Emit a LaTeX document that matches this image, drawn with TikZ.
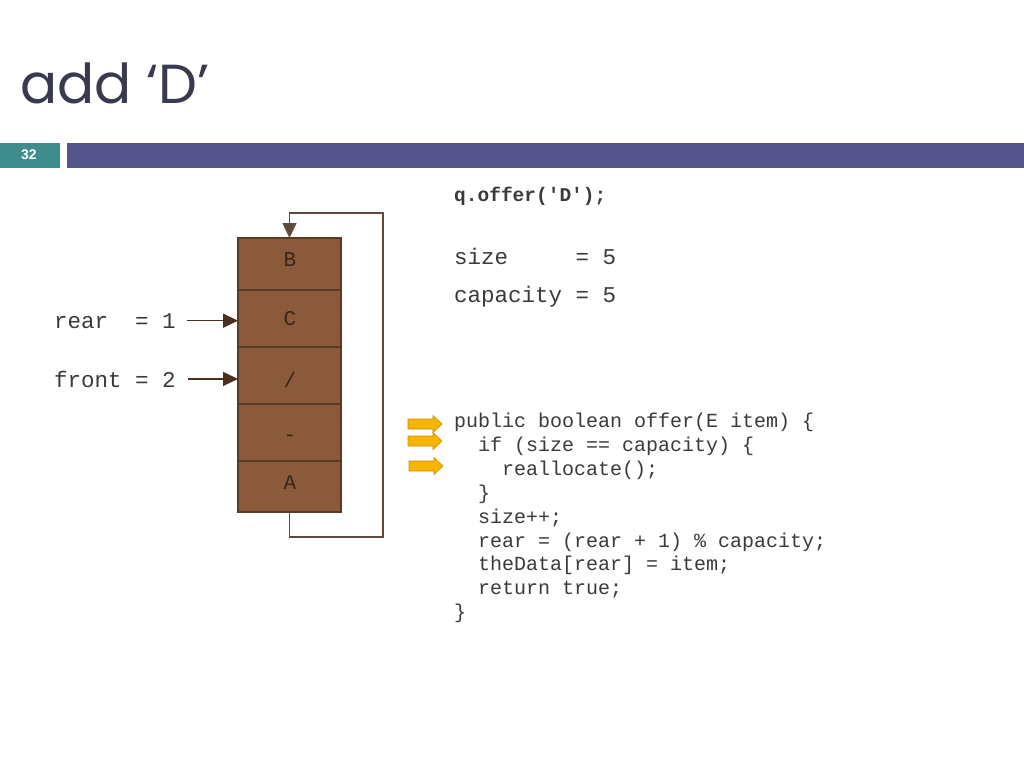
\documentclass[tikz,border=0pt]{standalone}
\usepackage{fontspec}
\setmainfont{Liberation Sans}
\setmonofont{Liberation Mono}
\newfontfamily\titlefont{Poppins}
\usetikzlibrary{arrows.meta}
\definecolor{titlecol}{HTML}{3A3A4E}
\definecolor{tealcol}{HTML}{3F8C8C}
\definecolor{barcol}{HTML}{54548A}
\definecolor{cellfill}{HTML}{8B5A3A}
\definecolor{celldraw}{HTML}{5A3A22}
\definecolor{celltext}{HTML}{3A2616}
\definecolor{loopcol}{HTML}{5E4A3E}
\definecolor{ptrcol}{HTML}{4A2E1E}
\definecolor{codecol}{HTML}{3A3A3A}
\definecolor{orangefill}{HTML}{F5B500}
\definecolor{orangedraw}{HTML}{D09000}
\begin{document}
\begin{tikzpicture}[x=1pt,y=-1pt,
  cell/.style={draw=celldraw,fill=cellfill,line width=1.5pt,minimum width=103pt,inner sep=0pt,outer sep=0pt},
  celltxt/.style={text=celltext,font=\ttfamily\fontsize{21}{24}\selectfont,inner sep=0pt},
  codeline/.style={anchor=base west,inner sep=0pt,text=codecol,font=\ttfamily\fontsize{20}{24}\selectfont},
  biglabel/.style={anchor=base west,inner sep=0pt,text=codecol,font=\ttfamily\fontsize{22.5}{27}\selectfont},
  loopline/.style={draw=loopcol,line width=1.3pt},
  ptr/.style={draw=ptrcol,line width=1.3pt,-{Triangle[length=15pt,width=14pt]}},
  orangearrow/.style={fill=orangefill,draw=orangedraw,line width=0.6pt}
]
\useasboundingbox (0,0) rectangle (1024,768);
\fill[white] (0,0) rectangle (1024,768);

% title and header bar
\node[anchor=base west,inner sep=0pt,text=titlecol,font=\titlefont\fontsize{55}{62}\selectfont] (title) at (20,103) {add ‘D’};
\fill[tealcol] (0,143) rectangle (60,168);
\fill[barcol] (67,143) rectangle (1024,168);
\node[text=white,font=\bfseries\fontsize{14}{16}\selectfont,inner sep=0pt] (pnum) at (29,155) {32};

% stack cells
\node[cell,minimum height=52pt] (c0) at (289.5,264) {};
\node[cell,minimum height=57pt] (c1) at (289.5,318.5) {};
\node[cell,minimum height=57pt] (c2) at (289.5,375.5) {};
\node[cell,minimum height=57pt] (c3) at (289.5,432.5) {};
\node[cell,minimum height=51pt] (c4) at (289.5,486.5) {};
\node[celltxt] (tB) at (290,260) {B};
\node[celltxt] (tC) at (290,319) {C};
\node[celltxt] (tS) at (290,380) {/};
\node[celltxt] (tD) at (290,438) {-};
\node[celltxt] (tA) at (290,483) {A};

% loop connector
\coordinate (lr) at (383,537);
\coordinate (tr) at (383,213);
\draw[loopline,-{Triangle[length=15pt,width=14pt]}] (c4.south) |- (lr) -- (tr) -| (c0.north);

% rear / front labels
\node[biglabel] (rearlbl) at (54,328) {rear\ \ = 1};
\node[biglabel] (frontlbl) at (54,387) {front = 2};
\draw[ptr] ([xshift=11pt]rearlbl.east) -- (rearlbl.east -| c1.west);
\draw[ptr] ([xshift=12pt]frontlbl.east) -- (frontlbl.east -| c2.west);

% right-hand text
\node[codeline,font=\ttfamily\bfseries\fontsize{19.5}{24}\selectfont] (call) at (454,201) {q.offer('D');};
\node[biglabel] (sizel) at (454,264) {size\ \ \ \ \ = 5};
\node[biglabel] (capl) at (454,302) {capacity = 5};

\node[codeline] (l1) at (454,427) {public boolean offer(E item) \{};
\node[codeline] (l2) at (478,451) {if (size == capacity) \{};
\node[codeline] (l3) at (502,475) {reallocate();};
\node[codeline] (l4) at (478,499) {\}};
\node[codeline] (l5) at (478,523) {size++;};
\node[codeline] (l6) at (478,547) {rear = (rear + 1) \% capacity;};
\node[codeline] (l7) at (478,570) {theData[rear] = item;};
\node[codeline] (l8) at (478,594) {return true;};
\node[codeline] (l9) at (454,618) {\}};

% orange block arrows
\foreach \x/\y in {408/424, 408/441, 409/466}{
  \draw[orangearrow] (\x,\y-5) -- (\x+25,\y-5) -- (\x+25,\y-8.5) -- (\x+34,\y) -- (\x+25,\y+8.5) -- (\x+25,\y+5) -- (\x,\y+5) -- cycle;
}
\end{tikzpicture}
\end{document}
